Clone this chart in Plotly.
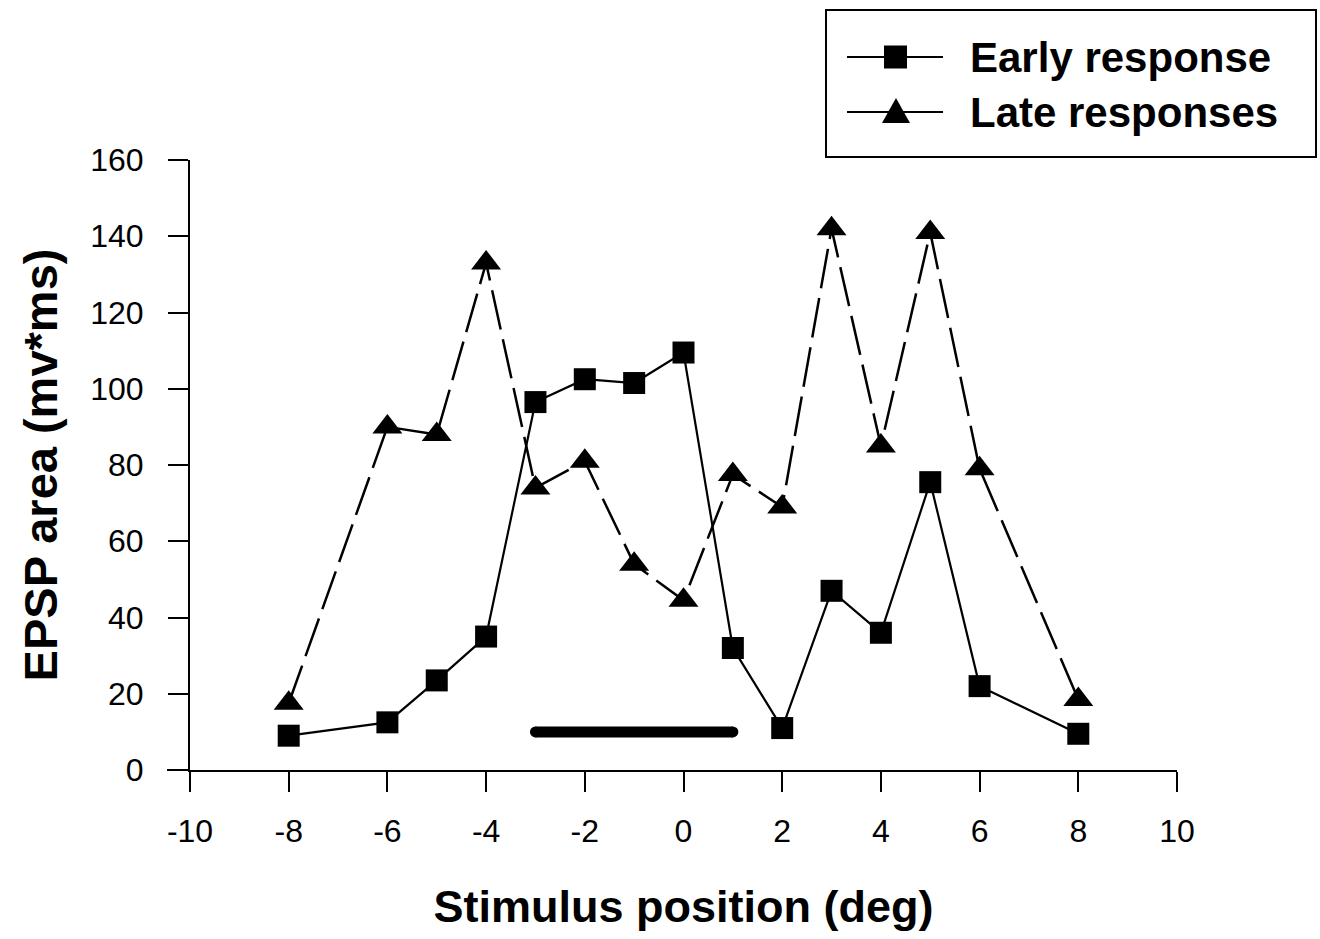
import plotly.graph_objects as go

x_early = [-8, -6, -5, -4, -3, -2, -1, 0, 1, 2, 3, 4, 5, 6, 8]
y_early = [9, 12.5, 23.5, 35, 96.5, 102.5, 101.5, 109.5, 32, 11, 47, 36, 75.5, 22, 9.5]

x_late = [-8, -6, -5, -4, -3, -2, -1, 0, 1, 2, 3, 4, 5, 6, 8]
y_late = [17.5, 90, 88, 133, 74, 81, 54, 44.5, 77.5, 69, 142, 85, 141, 79, 18.5]

bar_x = [-3, 1]
bar_y = [10, 10]

x_ticks = list(range(-10, 11, 2))
x_ticktext = ["-10", "-8", "-6", "-4", "-2", "0", "2", "4", "6", "8", "10"]
y_ticks = list(range(0, 161, 20))

legend_names = ["Early response", "Late responses"]

FONT = "Liberation Sans, Arial, sans-serif"

# plot area in pixels (for placing the hand-drawn legend)
L, R, T, B = 190, 1177, 160, 770
def px(x):
    return (x - L) / (R - L)
def py(y):
    return (B - y) / (B - T)

fig = go.Figure()
fig.add_trace(go.Scatter(x=bar_x, y=bar_y, mode="lines+markers",
                         line=dict(color="black", width=11),
                         marker=dict(symbol="circle", size=11, color="black"),
                         showlegend=False, hoverinfo="skip"))
fig.add_trace(go.Scatter(x=x_late, y=y_late, mode="lines+markers", name=legend_names[1],
                         line=dict(color="black", width=2.5, dash="40px,10px"),
                         marker=dict(symbol="triangle-up", size=26, color="black"),
                         showlegend=False))
fig.add_trace(go.Scatter(x=x_early, y=y_early, mode="lines+markers", name=legend_names[0],
                         line=dict(color="black", width=2.2),
                         marker=dict(symbol="square", size=22, color="black"),
                         showlegend=False))

shapes = []
# legend box
shapes.append(dict(type="rect", xref="paper", yref="paper",
                   x0=px(826), x1=px(1316), y0=py(157), y1=py(10),
                   line=dict(color="black", width=2), fillcolor="white", layer="above"))
rows = [57, 112]
for i, ry in enumerate(rows):
    shapes.append(dict(type="line", xref="paper", yref="paper",
                       x0=px(847), x1=px(943), y0=py(ry), y1=py(ry),
                       line=dict(color="black", width=2), layer="above"))
# square marker in legend
shapes.append(dict(type="rect", xref="paper", yref="paper",
                   x0=px(884), x1=px(907), y0=py(rows[0] + 11.5), y1=py(rows[0] - 11.5),
                   line=dict(color="black", width=0), fillcolor="black", layer="above"))
# triangle marker in legend
tx, ty = 896, rows[1]
path = "M {:.5f} {:.5f} L {:.5f} {:.5f} L {:.5f} {:.5f} Z".format(
    px(tx - 14), py(ty + 11), px(tx + 14), py(ty + 11), px(tx), py(ty - 14))
shapes.append(dict(type="path", xref="paper", yref="paper", path=path,
                   line=dict(color="black", width=0), fillcolor="black", layer="above"))
# x-axis line extension to the left of the y axis
shapes.append(dict(type="line", xref="paper", yref="paper",
                   x0=px(167), x1=0, y0=0, y1=0,
                   line=dict(color="black", width=2), layer="above"))

annotations = []
for i, ry in enumerate(rows):
    annotations.append(dict(xref="paper", yref="paper", x=px(968), y=py(ry),
                            xanchor="left", yanchor="middle", showarrow=False,
                            text="<b>" + legend_names[i] + "</b>",
                            font=dict(size=42, family=FONT, color="black")))

fig.update_layout(
    width=1320, height=939,
    margin=dict(l=L, r=1320 - R, t=T, b=939 - B),
    plot_bgcolor="white", paper_bgcolor="white",
    font=dict(family=FONT, color="black"),
    showlegend=False,
    shapes=shapes, annotations=annotations,
)
fig.update_xaxes(range=[-10, 10], tickvals=x_ticks, ticktext=x_ticktext, ticks="outside",
                 ticklen=20, tickwidth=2,
                 tickcolor="black", showline=True, linecolor="black", linewidth=2,
                 showgrid=False, zeroline=False, tickfont=dict(size=32), ticklabelstandoff=12,
                 title=dict(text="<b>Stimulus position (deg)</b>", font=dict(size=45), standoff=42))
fig.update_yaxes(range=[0, 160], tickvals=y_ticks, ticks="outside", ticklen=20, tickwidth=2,
                 tickcolor="black", showline=True, linecolor="black", linewidth=2,
                 showgrid=False, zeroline=False, tickfont=dict(size=32), ticklabelstandoff=18,
                 title=dict(text="<b>EPSP area (mv*ms)</b>", font=dict(size=47), standoff=18))

fig.write_html("out.html")
